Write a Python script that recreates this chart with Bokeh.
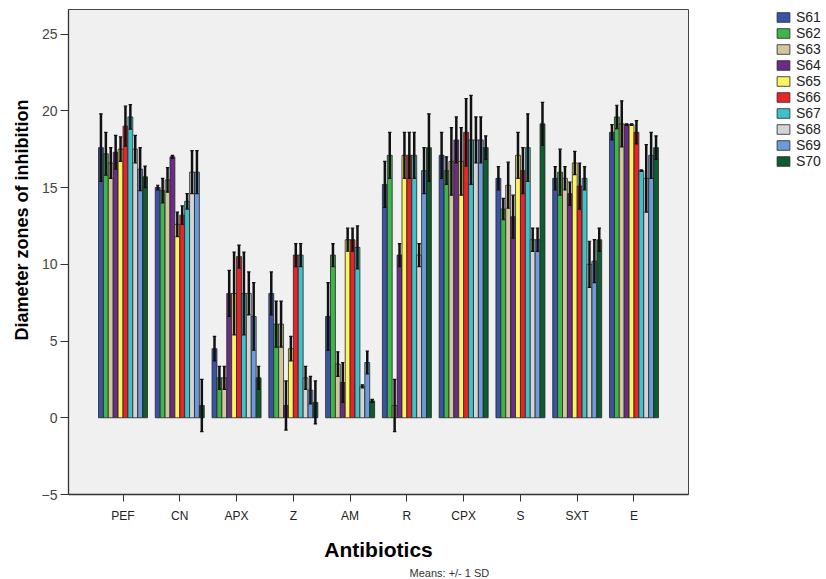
from bokeh.plotting import figure
from bokeh.layouts import row
from bokeh.models import (ColumnDataSource, FactorRange, Range1d, Legend, LegendItem,
                          Title, FixedTicker)
from bokeh.transform import dodge
from bokeh.embed import file_html
from bokeh.resources import INLINE

antibiotics = ["PEF", "CN", "APX", "Z", "AM", "R", "CPX", "S", "SXT", "E"]
series_names = ["S61", "S62", "S63", "S64", "S65", "S66", "S67", "S68", "S69", "S70"]
colors = ["#3A53A4", "#3DB54A", "#D1C79C", "#6A2C88", "#FBF45F",
          "#E8242A", "#3FC1C9", "#D4D4D4", "#6B9BD8", "#0F5A2E"]

# means (order of antibiotics)
S61 = [17.6, 15.0, 4.5, 8.1, 6.6, 15.2, 17.1, 15.6, 15.6, 18.6]
S62 = [17.2, 14.8, 2.6, 6.1, 10.6, 17.1, 16.1, 13.6, 16.0, 19.6]
S63 = [16.6, 15.5, 2.6, 6.1, 3.5, 0.8, 16.7, 15.15, 15.6, 19.15]
S64 = [17.3, 17.0, 8.1, 0.8, 2.3, 10.6, 18.1, 13.1, 14.6, 19.1]
S65 = [17.5, 12.6, 8.1, 4.5, 11.6, 17.1, 16.7, 17.1, 16.6, 19.1]
S66 = [19.0, 13.2, 10.5, 10.6, 11.6, 17.1, 18.6, 16.1, 15.1, 18.6]
S67 = [19.6, 14.1, 8.1, 10.6, 11.1, 17.1, 18.1, 17.6, 15.6, 16.1]
S68 = [17.5, 16.0, 8.1, 2.6, 2.05, 10.6, 18.1, 11.6, 10.0, 15.6]
S69 = [16.2, 16.0, 6.6, 1.8, 3.6, 16.1, 18.1, 11.6, 10.2, 17.1]
S70 = [15.7, 0.8, 2.6, 1.0, 1.1, 17.6, 17.6, 19.15, 11.6, 17.6]

# standard deviations
S61_sd = [2.2, 0.15, 0.8, 1.4, 2.2, 1.5, 1.5, 0.76, 0.76, 0.5]
S62_sd = [1.4, 0.8, 0.75, 1.5, 0.75, 1.5, 0.9, 0.7, 1.5, 0.76]
S63_sd = [1.0, 0.8, 0.75, 1.5, 0.8, 1.7, 2.2, 1.5, 0.76, 1.5]
S64_sd = [1.1, 0.1, 1.5, 1.6, 1.3, 0.75, 1.5, 1.4, 0.76, 0.05]
S65_sd = [0.8, 0.8, 2.7, 0.8, 0.75, 1.5, 2.2, 1.5, 0.76, 0.05]
S66_sd = [1.3, 0.6, 0.75, 0.75, 0.75, 1.5, 2.2, 1.5, 1.5, 0.76]
S67_sd = [0.8, 0.5, 2.7, 0.75, 1.4, 1.5, 2.9, 2.2, 0.76, 0.05]
S68_sd = [0.9, 1.4, 1.4, 0.75, 0.1, 0.75, 1.5, 0.76, 1.5, 2.2]
S69_sd = [1.4, 1.4, 2.2, 0.9, 0.75, 1.5, 1.5, 0.76, 1.4, 1.5]
S70_sd = [0.7, 1.7, 0.75, 1.4, 0.1, 2.2, 0.76, 1.4, 0.76, 0.76]

y_ticks = [-5, 0, 5, 10, 15, 20, 25]

means = [S61, S62, S63, S64, S65, S66, S67, S68, S69, S70]
sds = [S61_sd, S62_sd, S63_sd, S64_sd, S65_sd, S66_sd, S67_sd, S68_sd, S69_sd, S70_sd]

x_range = FactorRange(factors=antibiotics, range_padding=0.46,
                      range_padding_units="absolute")
p = figure(width=689, height=579, x_range=x_range, y_range=Range1d(-5, 26.6),
           output_backend="svg", toolbar_location=None,
           min_border_left=68, min_border_right=1, min_border_top=8,
           min_border_bottom=83)

p.background_fill_color = "#F0F0F0"
p.border_fill_color = "white"
p.outline_line_color = "#444444"
p.outline_line_width = 1
p.xgrid.visible = False
p.ygrid.visible = False

bw = 0.0863
for j, (name, m, s, c) in enumerate(zip(series_names, means, sds, colors)):
    lo = [a - b for a, b in zip(m, s)]
    hi = [a + b for a, b in zip(m, s)]
    src = ColumnDataSource(dict(ab=antibiotics, mean=m, lo=lo, hi=hi))
    off = (j - 4.5) * bw
    p.vbar(x=dodge("ab", off, range=p.x_range), top="mean", bottom=0, width=bw,
           source=src, fill_color=c, line_color="#262626", line_width=0.8)
    p.segment(x0=dodge("ab", off, range=p.x_range), y0="lo",
              x1=dodge("ab", off, range=p.x_range), y1="hi",
              source=src, line_color="#111111", line_width=2.5)
    for end in ("lo", "hi"):
        p.segment(x0=dodge("ab", off - bw * 0.35, range=p.x_range), y0=end,
                  x1=dodge("ab", off + bw * 0.35, range=p.x_range), y1=end,
                  source=src, line_color="#111111", line_width=1.2)

# axes
p.yaxis.ticker = FixedTicker(ticks=y_ticks)
p.yaxis.major_tick_out = 8
p.yaxis.major_tick_in = 0
p.yaxis.minor_tick_out = 0
p.yaxis.minor_tick_in = 0
p.yaxis.major_label_standoff = 3
p.yaxis.major_label_text_font = "Liberation Sans"
p.yaxis.major_label_text_font_size = "14px"
p.yaxis.major_label_text_color = "#444444"
p.yaxis.axis_line_color = "#333333"
p.yaxis.axis_line_width = 1.3
p.yaxis.major_tick_line_color = "#333333"

p.xaxis.major_tick_out = 7
p.xaxis.major_tick_in = 0
p.xaxis.major_label_standoff = 7
p.xaxis.major_label_text_font = "Liberation Sans"
p.xaxis.major_label_text_font_size = "12px"
p.xaxis.major_label_text_color = "#222222"
p.xaxis.axis_line_color = "#333333"
p.xaxis.axis_line_width = 1.3
p.xaxis.major_tick_line_color = "#333333"
p.xaxis.axis_label = "Antibiotics"
p.xaxis.axis_label_text_font = "Liberation Sans"
p.xaxis.axis_label_text_font_style = "bold"
p.xaxis.axis_label_text_font_size = "21px"
p.xaxis.axis_label_text_color = "black"
p.xaxis.axis_label_standoff = 12

ylab = Title(text="Diameter zones of inhibition", align="left", offset=154,
             standoff=14, text_font="Liberation Sans", text_font_style="bold",
             text_font_size="18px", text_color="black")
p.add_layout(ylab, "left")

note = Title(text="Means: +/- 1 SD", align="left", offset=341, standoff=2,
             text_font="Liberation Sans", text_font_style="normal",
             text_font_size="11px", text_color="#333333")
p.add_layout(note, "below")

# legend panel (swatch renderers sit outside the visible range of this small panel)
p2 = figure(width=137, height=579, x_range=Range1d(0, 1), y_range=Range1d(0, 1),
            output_backend="svg", toolbar_location=None,
            x_axis_type=None, y_axis_type=None,
            min_border_left=86, min_border_right=0, min_border_top=9,
            min_border_bottom=0)
p2.outline_line_color = None
p2.background_fill_color = "white"
p2.border_fill_color = "white"
p2.xgrid.visible = False
p2.ygrid.visible = False
items = []
for name, c in zip(series_names, colors):
    r = p2.vbar(x=[5], top=[6], bottom=[5], width=0.5, fill_color=c,
                line_color="#262626", line_width=0.8)
    items.append(LegendItem(label=name, renderers=[r]))
legend = Legend(items=items, location="top_left", padding=0, margin=0,
                spacing=0, glyph_width=16, glyph_height=12, label_height=12,
                label_standoff=5, label_text_font="Liberation Sans",
                label_text_font_size="14px", label_text_color="#222222",
                border_line_alpha=0, background_fill_alpha=0)
p2.add_layout(legend)

layout = row(p, p2)
open("out.html", "w").write(file_html(layout, INLINE))
